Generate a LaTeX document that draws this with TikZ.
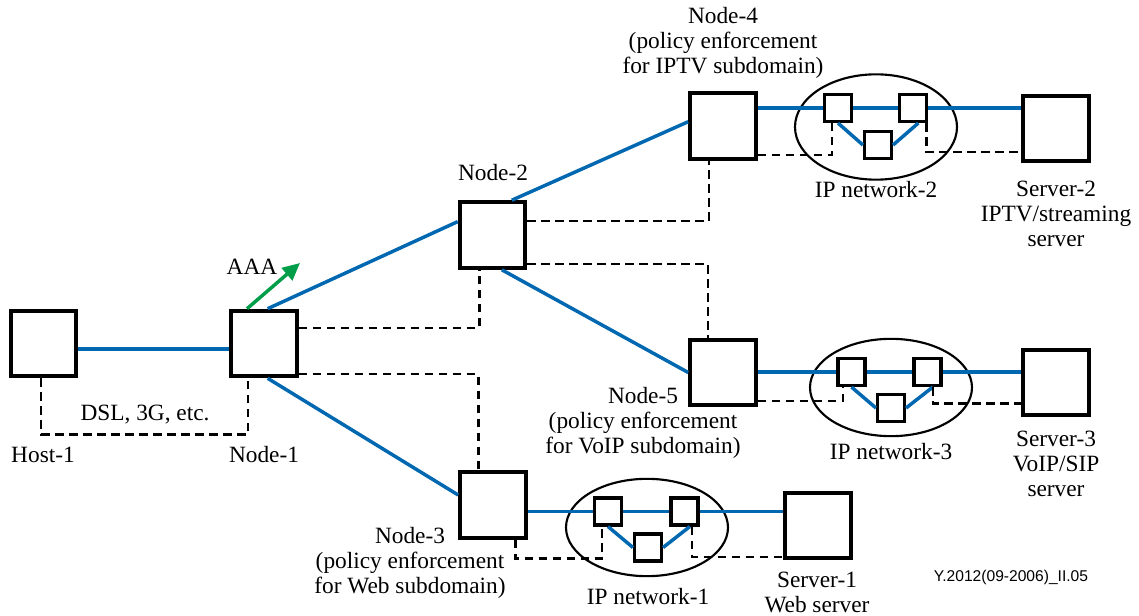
\documentclass[tikz,border=0pt]{standalone}
\usepackage{fontspec}
\setmainfont{Liberation Serif}
\newfontfamily\tagfont{Liberation Sans}
\usetikzlibrary{arrows.meta,shapes.geometric}
\definecolor{netblue}{RGB}{0,103,177}
\definecolor{aaagreen}{RGB}{0,158,73}
\tikzset{
  box/.style={draw, fill=white, line width=3.2pt, minimum size=49pt, inner sep=0pt},
  router/.style={draw, fill=white, line width=2.6pt, minimum size=20pt, inner sep=0pt},
  ipnet/.style={draw, ellipse, line width=1.6pt, minimum width=121.5pt, minimum height=73pt, inner sep=0pt},
  link/.style={netblue, line width=2.6pt},
  ctrl/.style={line width=2pt, dash pattern=on 6.5pt off 4pt},
  lbl/.style={font=\fontsize{17.5}{19}\selectfont, align=center, inner sep=0pt}
}
\begin{document}
\begin{tikzpicture}[x=0.75pt,y=-0.75pt]
\useasboundingbox (0,0) rectangle (1139,616);
\node[ipnet, minimum height=79pt] (net2) at (876,127) {};
\node[ipnet] (net3) at (891,387.5) {};
\node[ipnet] (net1) at (647,527.5) {};
\node[box] (host) at (43.5,343.5) {};
\node[box] (n1) at (264,343.5) {};
\node[box] (n2) at (492.5,235) {};
\node[box] (n3) at (493,505) {};
\node[box] (n4) at (723,126) {};
\node[box] (n5) at (723,372.5) {};
\node[box] (srv1) at (818,525.5) {};
\node[box] (srv2) at (1056,128.5) {};
\node[box] (srv3) at (1056,382.5) {};
\node[router] (a2) at (838,108) {};
\node[router] (b2) at (913,108) {};
\node[router] (c2) at (878,145) {};
\node[router] (a3) at (851.5,372) {};
\node[router] (b3) at (927.5,372) {};
\node[router] (c3) at (891,408) {};
\node[router] (a1) at (608,511.5) {};
\node[router] (b1) at (684.5,511.5) {};
\node[router] (c1) at (648,547.5) {};
% data links
\draw[link] ([yshift=-4pt]host.east) -- ([yshift=-4pt]n1.west);
\draw[link] (n1.84) -- (n2.159);
\draw[link] (n2.61) -- (n4.173);
\draw[link] (n2.-75) -- (n5.west);
\draw[link] (n1.-84) -- (n3.164);
\draw[link] (n4.east |- a2) -- (a2.west) (a2.east) -- (b2.west) (b2.east) -- (srv2.west |- b2);
\draw[link] (a2.south) -- (c2.west) (c2.east) -- ([xshift=4pt]b2.south);
\draw[link] (n5.east |- a3) -- (a3.west) (a3.east) -- (b3.west) (b3.east) -- (srv3.west |- b3);
\draw[link] (a3.south) -- (c3.west) (c3.east) -- ([xshift=4pt]b3.south);
\draw[link] (n3.east |- a1) -- (a1.west) (a1.east) -- (b1.west) (b1.east) -- (srv1.west |- b1);
\draw[link] (a1.south) -- (c1.west) (c1.east) -- ([xshift=4pt]b1.south);
% control paths
\draw[ctrl] ([xshift=-2pt]host.south) -- ++(0,56) -| ([xshift=-12pt]n1.south);
\draw[ctrl] ([yshift=11.6pt]n1.east) -| ([xshift=-10pt]n2.south);
\draw[ctrl] ([yshift=-23pt]n1.east) -| ([xshift=-11pt]n3.north);
\draw[ctrl] ([yshift=10.5pt]n2.east) -| ([xshift=-10.5pt]n4.south);
\draw[ctrl] ([yshift=-21.75pt]n2.east) -| ([xshift=-11.25pt]n5.north);
\draw[ctrl] ([xshift=17pt]n3.south) -- ++(0,19) -| ([xshift=-4.5pt]a1.south);
\draw[ctrl] ([xshift=5.5pt]b1.south) |- ([yshift=-23.5pt]srv1.west);
\draw[ctrl] ([yshift=-21.75pt]n4.east) -| ([xshift=-4.5pt]a2.south);
\draw[ctrl] ([xshift=10pt]b2.south) |- ([yshift=-17.6pt]srv2.west);
\draw[ctrl] ([yshift=-21.4pt]n5.east) -| ([xshift=-6.4pt]a3.south);
\draw[ctrl] ([xshift=4pt]b3.south) |- ([yshift=-16pt]srv3.west);
% AAA
\coordinate (aaatip) at (300,263);
\draw[aaagreen, line width=2.6pt, -{Triangle[length=13pt,width=12pt]}] (n1.116) -- (aaatip);
\node[lbl] (aaa) at (252,267) {AAA};
% labels
\node[lbl] (dsl) at (145,415) {DSL, 3G, etc.};
\node[lbl] (hostlbl) at (43,455) {Host-1};
\node[lbl] (n1lbl) at (264,455) {Node-1};
\node[lbl] (n2lbl) at (493,173) {Node-2};
\node[lbl] (n4lbl) at (723,43) {Node-4\\(policy enforcement\\for IPTV subdomain)};
\node[lbl] (n5lbl) at (643,423) {Node-5\\(policy enforcement\\for VoIP subdomain)};
\node[lbl] (n3lbl) at (410,563) {Node-3\\(policy enforcement\\for Web subdomain)};
\node[lbl] (net2lbl) at (876,190) {IP network-2};
\node[lbl] (net3lbl) at (891,452) {IP network-3};
\node[lbl] (net1lbl) at (648,597) {IP network-1};
\node[lbl] (srv2lbl) at (1056,214) {Server-2\\IPTV/streaming\\server};
\node[lbl] (srv3lbl) at (1056,464) {Server-3\\VoIP/SIP\\server};
\node[lbl] (srv1lbl) at (817,592.5) {Server-1\\Web server};
\node[font=\tagfont\fontsize{11.7}{13}\selectfont, inner sep=0pt] (tag) at (1011,577) {Y.2012(09-2006)\_II.05};
\end{tikzpicture}
\end{document}
